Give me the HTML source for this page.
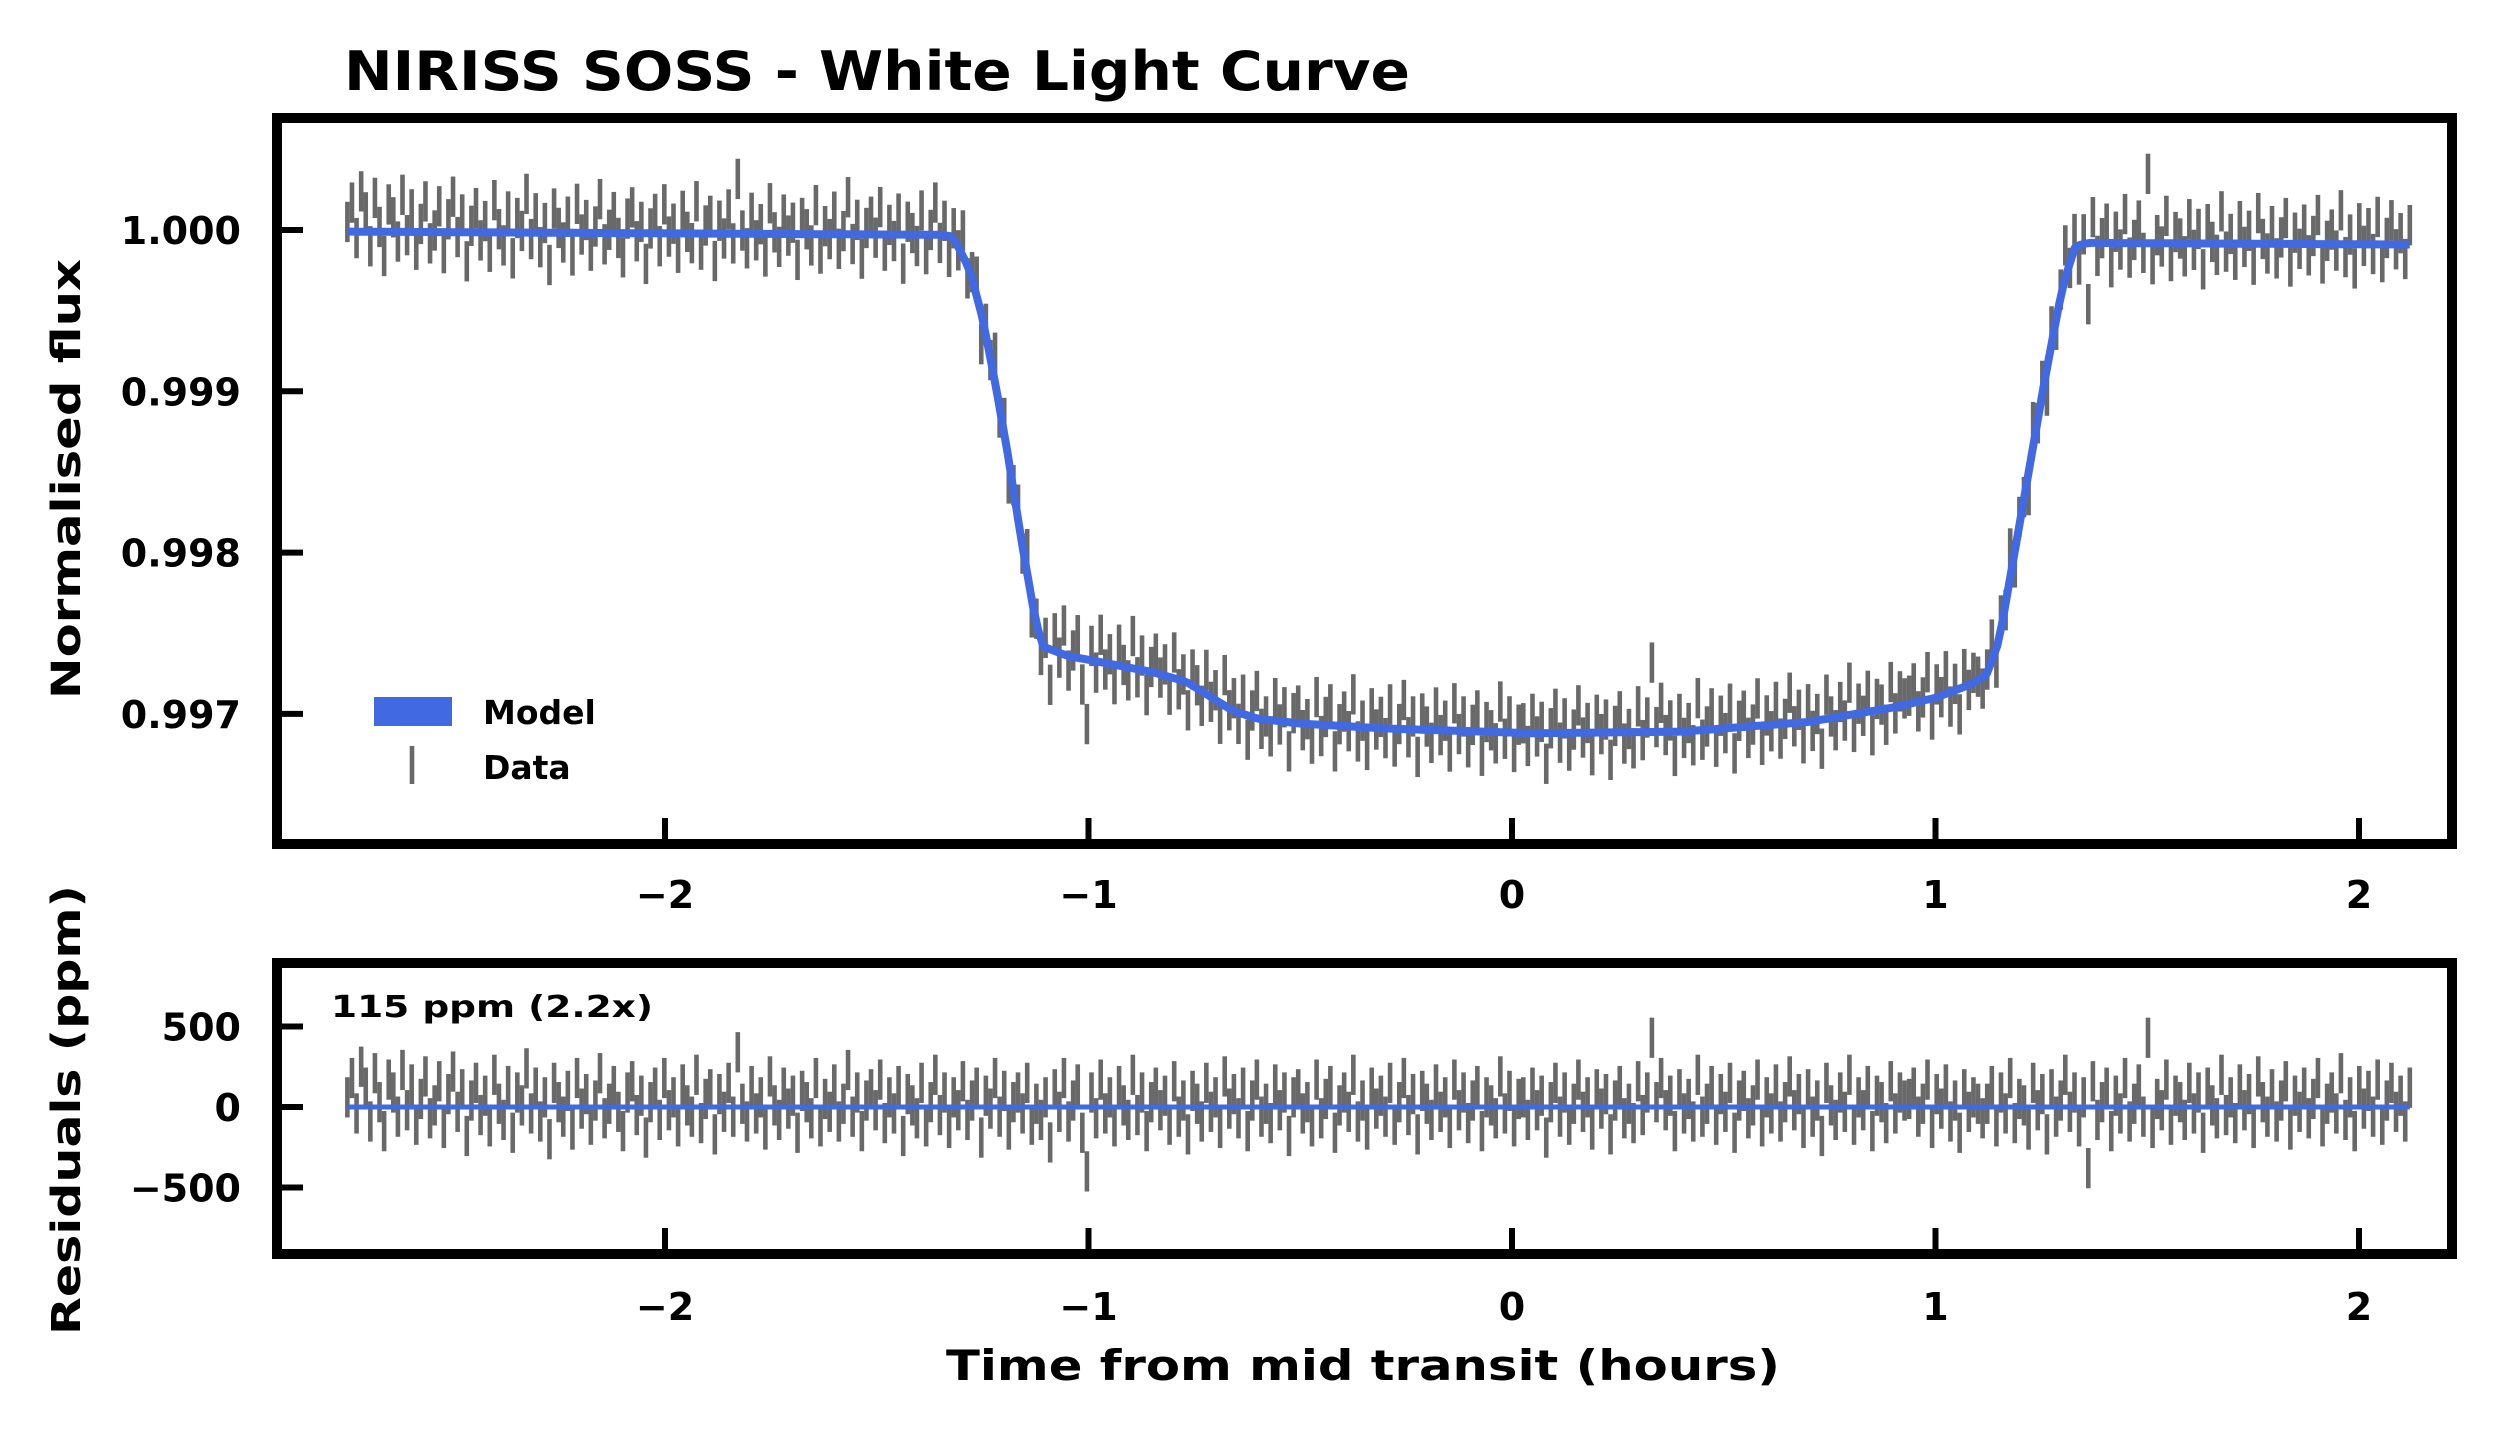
<!DOCTYPE html>
<html><head><meta charset="utf-8">
<style>
html,body{margin:0;padding:0;background:#fff;}
svg{display:block;}
text{font-family:"DejaVu Sans","Liberation Sans",sans-serif;font-weight:bold;fill:#000;}
</style></head>
<body>
<svg id="chart" width="2496" height="1440" viewBox="0 0 2496 1440" xmlns="http://www.w3.org/2000/svg">
<rect width="2496" height="1440" fill="#fff"/>
<text x="344" y="90" font-size="54" textLength="1066" lengthAdjust="spacingAndGlyphs">NIRISS SOSS - White Light Curve</text>
<g id="top-marks"></g>
<g id="bot-marks"></g>
<g id="axes"></g>
<text transform="translate(80,479) rotate(-90)" text-anchor="middle" font-size="40" textLength="440" lengthAdjust="spacingAndGlyphs">Normalised flux</text>
<text transform="translate(80,1110) rotate(-90)" text-anchor="middle" font-size="40" textLength="450" lengthAdjust="spacingAndGlyphs">Residuals (ppm)</text>
<text x="1363" y="1380" text-anchor="middle" font-size="42" textLength="834" lengthAdjust="spacingAndGlyphs">Time from mid transit (hours)</text>
<text x="331" y="1017" font-size="30" textLength="322" lengthAdjust="spacingAndGlyphs">115 ppm (2.2x)</text>
<g>
<rect x="374" y="697" width="78" height="29" fill="#4169e1"/>
<text x="483" y="724" font-size="33">Model</text>
<line x1="412" y1="746" x2="412" y2="784" stroke="#444" stroke-opacity="0.8" stroke-width="4.6"/>
<text x="483" y="779" font-size="33">Data</text>
</g>
</svg>
<script>
const modelTimes = [-2.75,-1.35,-1.32,-1.28,-1.25,-1.22,-1.19,-1.16,-1.13,-1.11,-1.05,-0.95,-0.85,-0.77,-0.72,-0.66,-0.6,-0.5,-0.3,0.05,0.4,0.7,0.9,1.0,1.08,1.12,1.15,1.18,1.22,1.26,1.3,1.33,1.36,2.12];
const modelFlux = [0.99999,0.99997,0.99996,0.99975,0.99945,0.99905,0.99860,0.99810,0.99765,0.99742,0.99736,0.99731,0.99726,0.99720,0.99712,0.99702,0.99697,0.99694,0.99691,0.99688,0.99689,0.99695,0.99704,0.99710,0.99718,0.99724,0.99745,0.99790,0.99850,0.99910,0.99965,0.99990,0.99992,0.99991];
const residuals = [60,180,-40,250,120,-90,210,30,-150,170,90,-60,230,-20,140,-110,50,190,-70,10,160,-130,80,220,-30,110,-180,40,150,-50,
70,-120,200,20,-80,130,-160,90,10,240,-40,120,-90,60,-200,150,30,-60,100,-140,180,-10,80,-110,40,210,-70,20,130,-30,
-150,90,160,-50,70,-190,30,120,-80,180,-20,60,-120,140,10,-60,200,-100,50,110,-170,80,-30,150,-60,340,20,-90,130,-40,
60,-140,190,10,-80,120,-10,70,-160,100,30,-70,180,-120,50,-30,140,-90,20,230,-60,90,-150,40,110,-20,170,-100,60,-40,
130,-180,80,10,-70,150,-120,30,200,-50,90,-130,60,-20,160,-80,40,120,-190,70,-10,180,-60,100,-140,30,90,-40,150,-110,
20,-80,60,-220,110,-30,180,-90,40,140,-160,-400,90,-70,170,-40,60,-120,130,10,-80,200,-50,90,-150,30,120,-20,70,-110,
160,-60,40,-170,100,20,-90,150,-30,60,-130,190,-10,80,-70,120,-150,40,170,-60,20,-100,140,-20,90,-180,60,110,-40,30,
-120,170,-70,50,130,-160,10,90,-30,200,-90,40,-140,120,-10,70,-60,150,-110,30,180,-50,80,-170,100,20,-80,140,-30,60,
-130,170,-20,90,-100,40,130,-150,60,10,-70,190,-40,100,-120,50,60,-80,120,-20,70,-190,30,150,-60,90,-110,20,170,-30,
60,-140,110,-10,80,-170,40,130,-70,20,-100,160,-50,90,430,30,180,-20,70,-150,110,-40,50,-90,200,-60,20,130,-110,80,
-30,150,-160,40,100,-70,10,170,-120,60,-40,140,-90,30,190,-20,80,-130,110,-60,40,-180,150,10,-80,90,-30,200,-110,60,
-20,130,-150,70,30,-100,160,-40,90,40,50,120,-60,20,170,-130,80,-10,140,-90,40,-160,110,-30,60,20,-70,20,130,-120,
90,-40,180,-100,50,10,-140,150,-20,80,-170,110,-60,40,200,-30,90,-120,60,-380,160,-80,30,120,-150,70,-40,180,-90,20,
140,-60,430,-130,50,-20,170,-110,70,30,-80,150,-40,90,-160,120,10,-70,200,-50,60,-100,140,-20,80,-130,190,30,-60,110,
-90,40,160,-140,70,-30,120,-70,50,180,-120,20,90,-40,210,-80,60,-150,130,-10,100,-60,170,-110,40,150,-30,70,-90,120];
const errPpm = [125];
const tStart = -2.75, tEnd = 2.12;
const xTicks = [-2,-1,0,1,2];
const xTickLabels = ["\u22122","\u22121","0","1","2"];
const fluxTicks = [1.000,0.999,0.998,0.997];
const fluxTickLabels = ["1.000","0.999","0.998","0.997"];
const resTicks = [500,0,-500];
const resTickLabels = ["500","0","\u2212500"];

const NS = "http://www.w3.org/2000/svg";
const X0 = 1512, XS = 423.5;
function xPix(t){ return X0 + t*XS; }
function yFlux(f){ return 230 + (1.0 - f)*161300; }
function yRes(r){ return 1107 - r*0.161; }
function interpModel(t){
  for(let i=0;i<modelTimes.length-1;i++){
    if(t<=modelTimes[i+1]){
      const a=(t-modelTimes[i])/(modelTimes[i+1]-modelTimes[i]);
      return modelFlux[i]+a*(modelFlux[i+1]-modelFlux[i]);
    }
  }
  return modelFlux[modelFlux.length-1];
}
function mk(tag, attrs, parent){
  const el=document.createElementNS(NS,tag);
  for(const k in attrs) el.setAttribute(k,attrs[k]);
  parent.appendChild(el); return el;
}
const topG = document.getElementById('top-marks');
const botG = document.getElementById('bot-marks');
const axesG = document.getElementById('axes');
const N = residuals.length;
const err = errPpm[0];
for(let i=0;i<N;i++){
  const t = tStart + i*(tEnd-tStart)/(N-1);
  const f = interpModel(t) + residuals[i]*1e-6;
  const b = mk('line',{x1:xPix(t),x2:xPix(t),y1:yFlux(f+err*1e-6),y2:yFlux(f-err*1e-6),stroke:'#444','stroke-opacity':0.8,'stroke-width':4.6},topG);
  
  
  const r = mk('line',{x1:xPix(t),x2:xPix(t),y1:yRes(residuals[i]+err),y2:yRes(residuals[i]-err),stroke:'#444','stroke-opacity':0.8,'stroke-width':4.6},botG);
  
  
}
let d='';
for(let k=0;k<=400;k++){
  const t=tStart+k*(tEnd-tStart)/400;
  d+=(k?'L':'M')+xPix(t).toFixed(1)+','+yFlux(interpModel(t)).toFixed(1);
}
const ml = mk('path',{d:d,fill:'none',stroke:'#4169e1','stroke-width':8,'stroke-linejoin':'round'},topG);


const rl = mk('line',{x1:xPix(tStart),x2:xPix(tEnd),y1:yRes(0),y2:yRes(0),stroke:'#4169e1','stroke-width':5},botG);



const f1 = mk('rect',{x:277,y:118,width:2175,height:726,fill:'none',stroke:'#000','stroke-width':10},axesG);


const f2 = mk('rect',{x:277,y:963,width:2175,height:291,fill:'none',stroke:'#000','stroke-width':10},axesG);


xTicks.forEach((v,i)=>{
  [[844,894],[1254,1306]].forEach(([yb,yl])=>{
    const tk = mk('line',{x1:xPix(v),x2:xPix(v),y1:yb,y2:yb-26,stroke:'#000','stroke-width':6},axesG);
    
    
    const tl = mk('text',{x:xPix(v),y:yl+14,'text-anchor':'middle','font-size':38},axesG);
    tl.textContent = xTickLabels[i];
    
    
  });
});
fluxTicks.forEach((v,i)=>{
  const tk = mk('line',{x1:277,x2:303,y1:yFlux(v),y2:yFlux(v),stroke:'#000','stroke-width':6},axesG);
  
  
  const tl = mk('text',{x:241,y:yFlux(v)+14,'text-anchor':'end','font-size':38},axesG);
  tl.textContent = fluxTickLabels[i];
  
  
});
resTicks.forEach((v,i)=>{
  const tk = mk('line',{x1:277,x2:303,y1:yRes(v),y2:yRes(v),stroke:'#000','stroke-width':6},axesG);
  
  
  const tl = mk('text',{x:241,y:yRes(v)+14,'text-anchor':'end','font-size':38},axesG);
  tl.textContent = resTickLabels[i];
  
  
});
</script>
</body></html>
